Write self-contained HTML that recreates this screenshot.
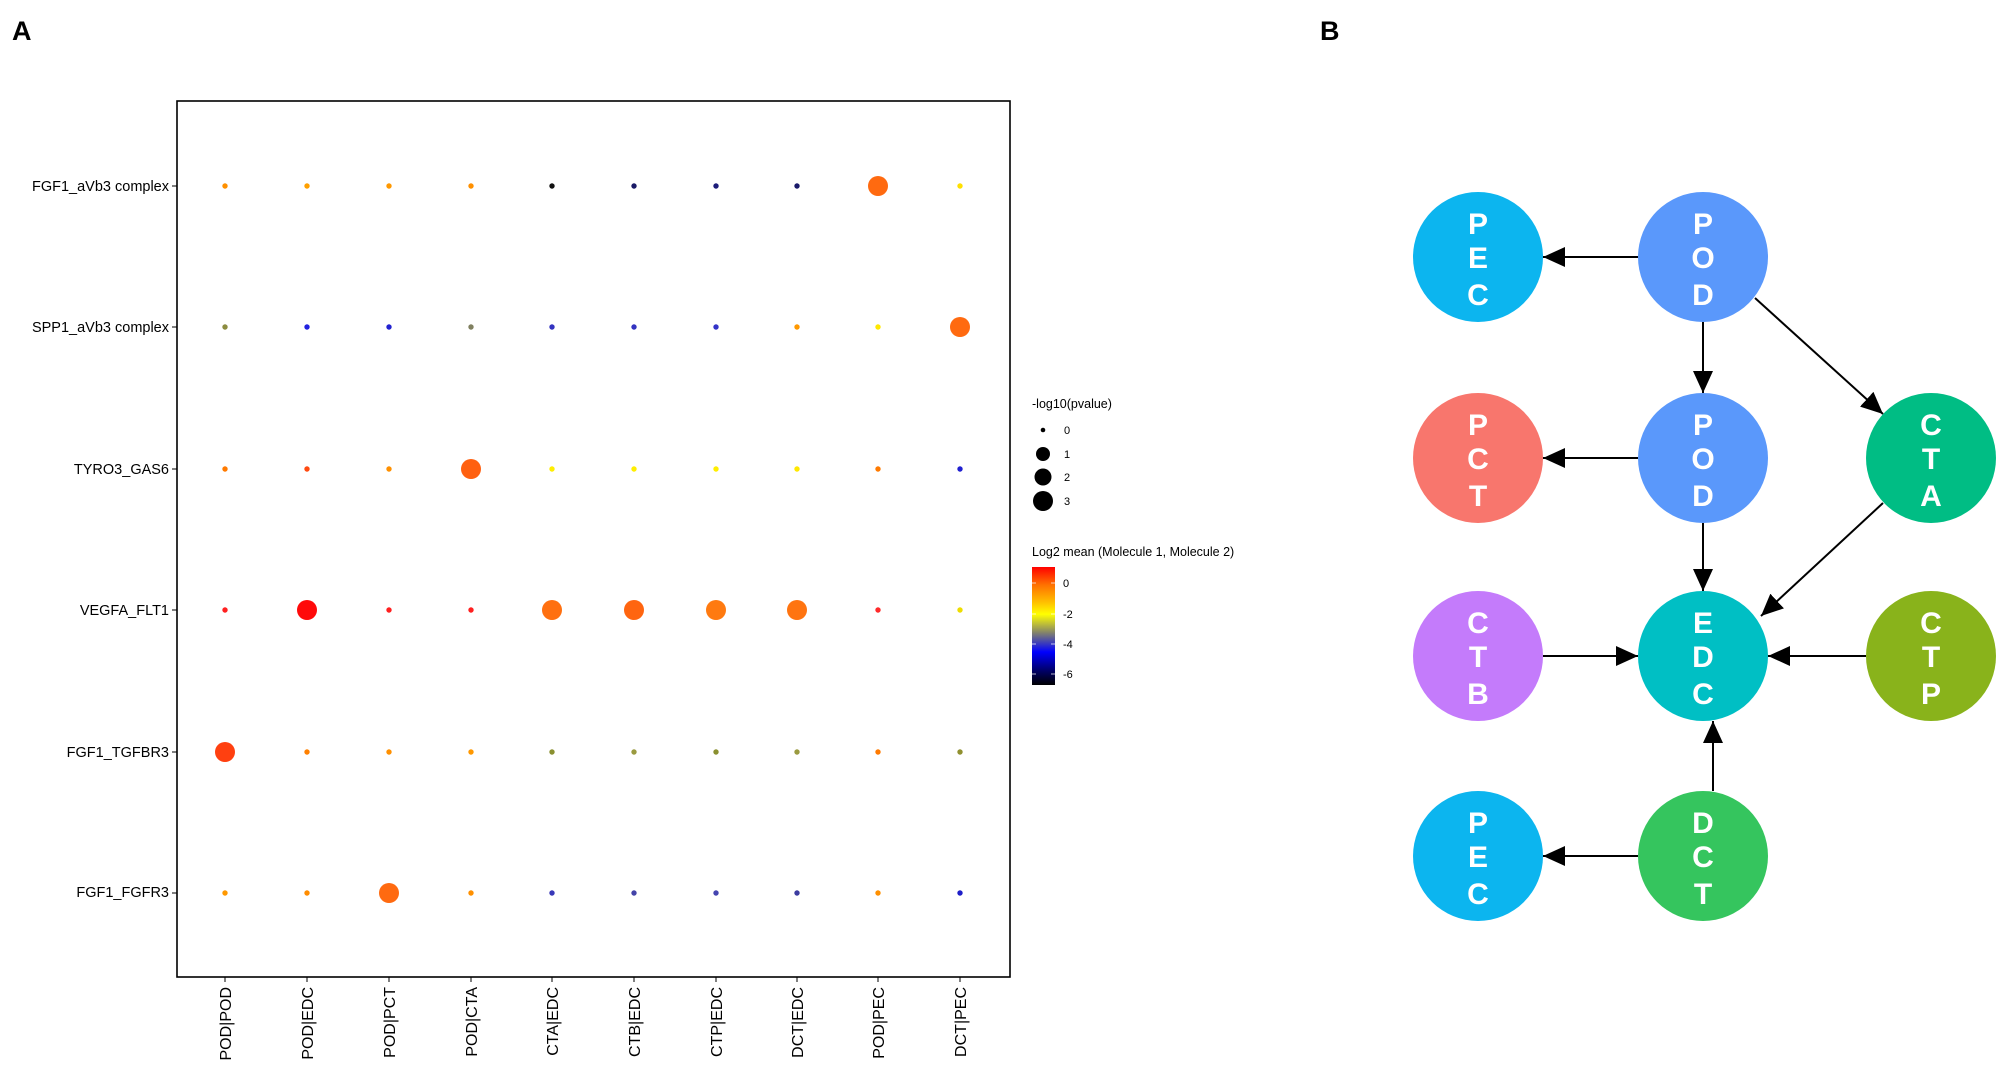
<!DOCTYPE html>
<html><head><meta charset="utf-8"><style>
html,body{margin:0;padding:0;background:#fff;}
svg{display:block;font-family:"Liberation Sans",sans-serif;}
</style></head><body>
<svg width="2008" height="1081" viewBox="0 0 2008 1081" xmlns="http://www.w3.org/2000/svg">
<defs>
<linearGradient id="cb" x1="0" y1="0" x2="0" y2="1">
<stop offset="0" stop-color="#ff0000"/>
<stop offset="0.15" stop-color="#ff7000"/>
<stop offset="0.3" stop-color="#ffc000"/>
<stop offset="0.4" stop-color="#ffff00"/>
<stop offset="0.55" stop-color="#888866"/>
<stop offset="0.72" stop-color="#0000ff"/>
<stop offset="0.88" stop-color="#000066"/>
<stop offset="1" stop-color="#000000"/>
</linearGradient>
<marker id="ah" viewBox="0 0 22 20" refX="22" refY="10" markerWidth="22" markerHeight="20" markerUnits="userSpaceOnUse" orient="auto">
<path d="M0,0 L22,10 L0,20 z" fill="#000"/>
</marker>
</defs>
<text x="12" y="40" font-size="27" font-weight="bold">A</text>
<text x="1320" y="40" font-size="27" font-weight="bold">B</text>

<rect x="177" y="101" width="833" height="876" fill="none" stroke="#000" stroke-width="1.6"/>
<g font-size="14.5" text-anchor="end" fill="#000">
<text x="169" y="191">FGF1_aVb3 complex</text>
<text x="169" y="332">SPP1_aVb3 complex</text>
<text x="169" y="474">TYRO3_GAS6</text>
<text x="169" y="615">VEGFA_FLT1</text>
<text x="169" y="757">FGF1_TGFBR3</text>
<text x="169" y="897">FGF1_FGFR3</text>
</g>
<g stroke="#000" stroke-width="1">
<line x1="172" y1="186" x2="177" y2="186"/><line x1="172" y1="327" x2="177" y2="327"/>
<line x1="172" y1="469" x2="177" y2="469"/><line x1="172" y1="610" x2="177" y2="610"/>
<line x1="172" y1="752" x2="177" y2="752"/><line x1="172" y1="893" x2="177" y2="893"/>
<line x1="225" y1="977" x2="225" y2="982"/><line x1="307" y1="977" x2="307" y2="982"/>
<line x1="389" y1="977" x2="389" y2="982"/><line x1="471" y1="977" x2="471" y2="982"/>
<line x1="552" y1="977" x2="552" y2="982"/><line x1="634" y1="977" x2="634" y2="982"/>
<line x1="716" y1="977" x2="716" y2="982"/><line x1="797" y1="977" x2="797" y2="982"/>
<line x1="878" y1="977" x2="878" y2="982"/><line x1="960" y1="977" x2="960" y2="982"/>
</g>
<g font-size="16" text-anchor="end">
<text transform="translate(231,987) rotate(-90)">POD|POD</text>
<text transform="translate(313,987) rotate(-90)">POD|EDC</text>
<text transform="translate(395,987) rotate(-90)">POD|PCT</text>
<text transform="translate(477,987) rotate(-90)">POD|CTA</text>
<text transform="translate(558,987) rotate(-90)">CTA|EDC</text>
<text transform="translate(640,987) rotate(-90)">CTB|EDC</text>
<text transform="translate(722,987) rotate(-90)">CTP|EDC</text>
<text transform="translate(803,987) rotate(-90)">DCT|EDC</text>
<text transform="translate(884,987) rotate(-90)">POD|PEC</text>
<text transform="translate(966,987) rotate(-90)">DCT|PEC</text>
</g>
<g>
<!-- row 0 -->
<circle cx="225" cy="186" r="2.7" fill="#ff9000"/><circle cx="307" cy="186" r="2.7" fill="#ffa000"/>
<circle cx="389" cy="186" r="2.7" fill="#ff9800"/><circle cx="471" cy="186" r="2.7" fill="#ff9000"/>
<circle cx="552" cy="186" r="2.7" fill="#111"/><circle cx="634" cy="186" r="2.7" fill="#1a1a66"/>
<circle cx="716" cy="186" r="2.7" fill="#1c1c7a"/><circle cx="797" cy="186" r="2.7" fill="#1a1a6a"/>
<circle cx="878" cy="186" r="10" fill="#ff6a10"/><circle cx="960" cy="186" r="2.7" fill="#ffe000"/>
<!-- row 1 -->
<circle cx="225" cy="327" r="2.7" fill="#8c8c40"/><circle cx="307" cy="327" r="2.7" fill="#2222e0"/>
<circle cx="389" cy="327" r="2.7" fill="#2222d0"/><circle cx="471" cy="327" r="2.7" fill="#808060"/>
<circle cx="552" cy="327" r="2.7" fill="#3333c0"/><circle cx="634" cy="327" r="2.7" fill="#3333c0"/>
<circle cx="716" cy="327" r="2.7" fill="#3333c8"/><circle cx="797" cy="327" r="2.7" fill="#ff9800"/>
<circle cx="878" cy="327" r="2.7" fill="#ffe800"/><circle cx="960" cy="327" r="10" fill="#ff6a10"/>
<!-- row 2 -->
<circle cx="225" cy="469" r="2.7" fill="#ff7a00"/><circle cx="307" cy="469" r="2.7" fill="#ff4a10"/>
<circle cx="389" cy="469" r="2.7" fill="#ff9000"/><circle cx="471" cy="469" r="10" fill="#ff6010"/>
<circle cx="552" cy="469" r="2.7" fill="#ffee00"/><circle cx="634" cy="469" r="2.7" fill="#ffee00"/>
<circle cx="716" cy="469" r="2.7" fill="#ffee00"/><circle cx="797" cy="469" r="2.7" fill="#ffe800"/>
<circle cx="878" cy="469" r="2.7" fill="#ff7a00"/><circle cx="960" cy="469" r="2.7" fill="#2020d0"/>
<!-- row 3 -->
<circle cx="225" cy="610" r="2.7" fill="#ff2020"/><circle cx="307" cy="610" r="10" fill="#ff0a0a"/>
<circle cx="389" cy="610" r="2.7" fill="#ff2020"/><circle cx="471" cy="610" r="2.7" fill="#ff2020"/>
<circle cx="552" cy="610" r="10" fill="#ff7010"/><circle cx="634" cy="610" r="10" fill="#ff6510"/>
<circle cx="716" cy="610" r="10" fill="#ff7a10"/><circle cx="797" cy="610" r="10" fill="#ff7410"/>
<circle cx="878" cy="610" r="2.7" fill="#ff2a2a"/><circle cx="960" cy="610" r="2.7" fill="#eedd00"/>
<!-- row 4 -->
<circle cx="225" cy="752" r="10" fill="#ff4010"/><circle cx="307" cy="752" r="2.7" fill="#ff8000"/>
<circle cx="389" cy="752" r="2.7" fill="#ff9000"/><circle cx="471" cy="752" r="2.7" fill="#ff9800"/>
<circle cx="552" cy="752" r="2.7" fill="#8a9030"/><circle cx="634" cy="752" r="2.7" fill="#9a9a40"/>
<circle cx="716" cy="752" r="2.7" fill="#8a9030"/><circle cx="797" cy="752" r="2.7" fill="#9a9a40"/>
<circle cx="878" cy="752" r="2.7" fill="#ff7a00"/><circle cx="960" cy="752" r="2.7" fill="#909030"/>
<!-- row 5 -->
<circle cx="225" cy="893" r="2.7" fill="#ff9800"/><circle cx="307" cy="893" r="2.7" fill="#ff8c00"/>
<circle cx="389" cy="893" r="10" fill="#ff6a10"/><circle cx="471" cy="893" r="2.7" fill="#ff9000"/>
<circle cx="552" cy="893" r="2.7" fill="#3838b8"/><circle cx="634" cy="893" r="2.7" fill="#4444a8"/>
<circle cx="716" cy="893" r="2.7" fill="#4444b0"/><circle cx="797" cy="893" r="2.7" fill="#3c3ca0"/>
<circle cx="878" cy="893" r="2.7" fill="#ff9000"/><circle cx="960" cy="893" r="2.7" fill="#1e1ec8"/>
</g>

<!-- legend -->
<g font-size="12.5">
<text x="1032" y="408">-log10(pvalue)</text>
<circle cx="1043" cy="430" r="2.3" fill="#000"/><text x="1064" y="434" font-size="11">0</text>
<circle cx="1043" cy="454" r="7" fill="#000"/><text x="1064" y="458" font-size="11">1</text>
<circle cx="1043" cy="477" r="8.5" fill="#000"/><text x="1064" y="481" font-size="11">2</text>
<circle cx="1043" cy="501" r="10" fill="#000"/><text x="1064" y="505" font-size="11">3</text>
<text x="1032" y="556">Log2 mean (Molecule 1, Molecule 2)</text>
<rect x="1032" y="567" width="23" height="118" fill="url(#cb)"/>
<g stroke="#fff" stroke-width="1" opacity="0.7">
<line x1="1032" y1="583" x2="1036" y2="583"/><line x1="1051" y1="583" x2="1055" y2="583"/>
<line x1="1032" y1="614" x2="1036" y2="614"/><line x1="1051" y1="614" x2="1055" y2="614"/>
<line x1="1032" y1="644" x2="1036" y2="644"/><line x1="1051" y1="644" x2="1055" y2="644"/>
<line x1="1032" y1="674" x2="1036" y2="674"/><line x1="1051" y1="674" x2="1055" y2="674"/>
</g>
<text x="1063" y="587" font-size="11">0</text>
<text x="1063" y="618" font-size="11">-2</text>
<text x="1063" y="648" font-size="11">-4</text>
<text x="1063" y="678" font-size="11">-6</text>
</g>

<!-- network -->
<g stroke="#000" stroke-width="2" marker-end="url(#ah)">
<line x1="1638" y1="257" x2="1543" y2="257"/>
<line x1="1638" y1="458" x2="1543" y2="458"/>
<line x1="1638" y1="856" x2="1543" y2="856"/>
<line x1="1703" y1="322" x2="1703" y2="393"/>
<line x1="1703" y1="523" x2="1703" y2="591"/>
<line x1="1713" y1="791" x2="1713" y2="721"/>
<line x1="1543" y1="656" x2="1638" y2="656"/>
<line x1="1866" y1="656" x2="1768" y2="656"/>
<line x1="1755" y1="298" x2="1883" y2="414"/>
<line x1="1883" y1="503" x2="1761" y2="616"/>
</g>
<g>
<circle cx="1478" cy="257" r="65" fill="#0cb5ef"/>
<circle cx="1703" cy="257" r="65" fill="#5a98fb"/>
<circle cx="1478" cy="458" r="65" fill="#f8766d"/>
<circle cx="1703" cy="458" r="65" fill="#5a98fb"/>
<circle cx="1931" cy="458" r="65" fill="#00bd84"/>
<circle cx="1478" cy="656" r="65" fill="#c47bfb"/>
<circle cx="1703" cy="656" r="65" fill="#00bfc4"/>
<circle cx="1931" cy="656" r="65" fill="#89b31b"/>
<circle cx="1478" cy="856" r="65" fill="#0cb5ef"/>
<circle cx="1703" cy="856" r="65" fill="#35c55e"/>
</g>
<g fill="#fff" font-size="30" font-weight="bold" text-anchor="middle">
<text x="1478" y="234">P</text><text x="1478" y="268">E</text><text x="1478" y="305">C</text>
<text x="1703" y="234">P</text><text x="1703" y="268">O</text><text x="1703" y="305">D</text>
<text x="1478" y="435">P</text><text x="1478" y="469">C</text><text x="1478" y="506">T</text>
<text x="1703" y="435">P</text><text x="1703" y="469">O</text><text x="1703" y="506">D</text>
<text x="1931" y="435">C</text><text x="1931" y="469">T</text><text x="1931" y="506">A</text>
<text x="1478" y="633">C</text><text x="1478" y="667">T</text><text x="1478" y="704">B</text>
<text x="1703" y="633">E</text><text x="1703" y="667">D</text><text x="1703" y="704">C</text>
<text x="1931" y="633">C</text><text x="1931" y="667">T</text><text x="1931" y="704">P</text>
<text x="1478" y="833">P</text><text x="1478" y="867">E</text><text x="1478" y="904">C</text>
<text x="1703" y="833">D</text><text x="1703" y="867">C</text><text x="1703" y="904">T</text>
</g>
</svg>
</body></html>
